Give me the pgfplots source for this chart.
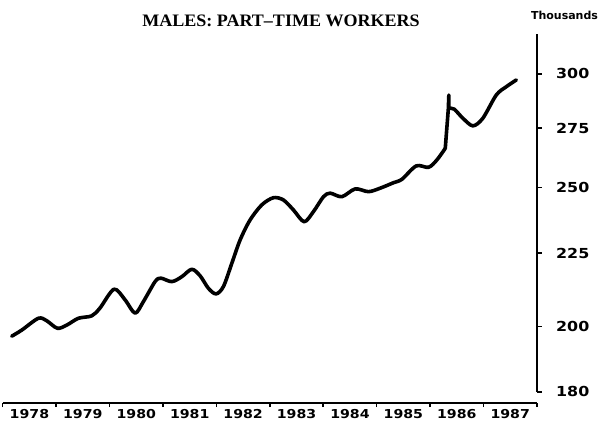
\documentclass[border=0pt]{standalone}
\usepackage{fontspec}
\usepackage{pgfplots}
\pgfplotsset{compat=1.18}
\newfontfamily\tickfont{DejaVu Sans}[FakeStretch=1.15]
\newfontfamily\thoufont{DejaVu Sans}
\newfontfamily\titlefont{Liberation Serif}[FakeStretch=1.03]
\begin{document}
\begin{tikzpicture}
\useasboundingbox (0pt,0pt) rectangle (603pt,424pt);
\node[font=\titlefont\bfseries\fontsize{17.5}{17.5}\selectfont] at (281pt,403pt) {MALES: PART\textendash TIME WORKERS};
\node[font=\thoufont\bfseries\fontsize{11}{11}\selectfont] at (564.5pt,409pt) {Thousands};
\begin{axis}[
  at={(2.7pt,32pt)}, anchor=south west, scale only axis,
  width=534.3pt, height=358.2pt,
  xmin=1978, xmax=1988, ymode=log, ymin=180, ymax=320,
  axis x line=none, axis y line=right,
  axis line style={line width=1.8pt,-},
  ytick={180,200,225,250,275,300},
  yticklabels={180,200,225,250,275,300},
  minor ytick={},
  tick align=outside, major tick length=5pt,
  every tick/.style={line width=1.5pt, black},
  yticklabel style={font=\tickfont\bfseries\fontsize{13.8}{14}\selectfont, anchor=west, inner sep=0pt, xshift=14pt},
]
\addplot[black, line width=3.6pt, smooth, line join=round, line cap=round] coordinates {
(1978.169,196.9) (1978.356,198.8) (1978.667,202.6) (1978.824,201.8) (1979.022,199.4)
(1979.199,200.4) (1979.416,202.6) (1979.667,203.4) (1979.822,206.0) (1980.084,212.3)
(1980.290,208.7) (1980.478,204.3) (1980.633,208.1) (1980.852,214.9) (1980.959,216.1)
(1981.165,214.9) (1981.352,216.6) (1981.539,219.2) (1981.695,216.9) (1981.850,212.6)
(1981.994,210.7) (1982.131,213.2) (1982.288,221.3) (1982.444,229.8) (1982.631,237.3)
(1982.850,243.1) (1983.067,245.9) (1983.255,245.0) (1983.442,241.1) (1983.642,236.6)
(1983.817,240.5) (1984.004,246.3) (1984.129,247.7) (1984.348,246.3) (1984.597,249.4)
(1984.846,248.3) (1985.066,249.7) (1985.315,251.9) (1985.472,253.3) (1985.740,258.8)
(1985.970,258.2) (1986.127,261.3) (1986.283,266.2)
};
\addplot[black, line width=3.6pt, sharp plot, line join=round, line cap=round] coordinates {
(1986.283,266.2) (1986.340,283.5) (1986.350,290.0) (1986.350,283.9)
};
\addplot[black, line width=3.6pt, smooth, line join=round, line cap=round] coordinates {
(1986.350,283.9) (1986.450,283.5) (1986.612,279.4) (1986.800,276.0) (1986.987,279.4)
(1987.238,290.0) (1987.426,293.9) (1987.613,297.1)
};
\end{axis}
\begin{axis}[
  at={(2.7pt,21pt)}, anchor=south west, scale only axis,
  width=534.3pt, height=20pt,
  xmin=1978, xmax=1988, ymin=0, ymax=1,
  axis y line=none, axis x line=bottom,
  axis line style={line width=1.8pt,-},
  xtick={1978.5,1979.5,...,1987.5},
  xticklabels={1978,1979,1980,1981,1982,1983,1984,1985,1986,1987},
  tick align=outside, major tick length=0pt,
  every tick/.style={line width=1.5pt, black},
  extra x ticks={1978,1979,...,1988},
  extra x tick labels={,,,,,,,,,,},
  extra x tick style={major tick length=4pt},
  xticklabel style={font=\tickfont\bfseries\fontsize{12.3}{13}\selectfont, anchor=north, inner sep=0pt, yshift=-6pt},
]
\end{axis}
\end{tikzpicture}
\end{document}
